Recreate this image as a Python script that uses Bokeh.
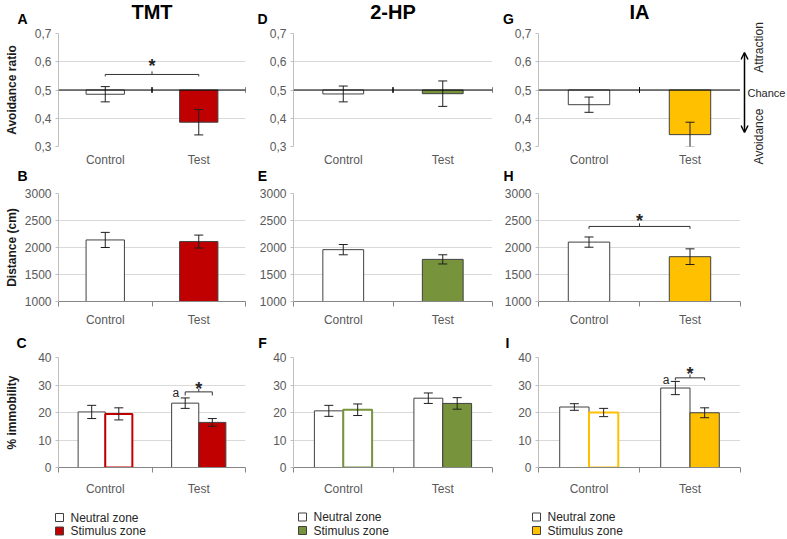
import math
from bokeh.plotting import figure
from bokeh.layouts import column, row
from bokeh.models import (FactorRange, Range1d, LinearAxis, FixedTicker,
                          CustomJSTickFormatter, ColumnDataSource, Whisker, TeeHead,
                          Arrow, OpenHead, Span)
from bokeh.transform import dodge
from bokeh.core.properties import value
from bokeh.embed import file_html
from bokeh.resources import INLINE

# ---------------- data ----------------
groups = ["Control", "Test"]
odor_names = ["TMT", "2-HP", "IA"]
odor_colors = ["#C00000", "#77933C", "#FFC000"]
panel_letters = [["A", "B", "C"], ["D", "E", "F"], ["G", "H", "I"]]
row_labels = ["Avoidance ratio", "Distance (cm)", "% immobility"]
legend_labels = ["Neutral zone", "Stimulus zone"]
side_labels = ["Attraction", "Chance", "Avoidance"]

ratio_ticks = [0.3, 0.4, 0.5, 0.6, 0.7]
dist_ticks = [1000, 1500, 2000, 2500, 3000]
imm_ticks = [0, 10, 20, 30, 40]

# avoidance ratio (bars drawn from chance level 0.5)
chance_level = 0.5
tmt_ratio = [0.485, 0.386]
tmt_ratio_err = [0.027, 0.045]
hp_ratio = [0.486, 0.487]
hp_ratio_err = [0.028, 0.045]
ia_ratio = [0.448, 0.342]
ia_ratio_err = [0.027, 0.044]

# distance (cm)
tmt_dist = [2140, 2110]
tmt_dist_err = [140, 120]
hp_dist = [1960, 1780]
hp_dist_err = [95, 85]
ia_dist = [2100, 1830]
ia_dist_err = [95, 145]

# % immobility: neutral zone / stimulus zone
tmt_imm_neutral = [20.2, 23.4]
tmt_imm_neutral_err = [2.4, 1.9]
tmt_imm_stim = [19.5, 16.4]
tmt_imm_stim_err = [2.2, 1.4]
hp_imm_neutral = [20.6, 25.2]
hp_imm_neutral_err = [2.0, 1.9]
hp_imm_stim = [21.0, 23.3]
hp_imm_stim_err = [2.1, 2.1]
ia_imm_neutral = [22.0, 28.9]
ia_imm_neutral_err = [1.2, 2.4]
ia_imm_stim = [20.0, 19.9]
ia_imm_stim_err = [1.5, 1.8]

# significance brackets: [line, end drop, mid tick, star baseline]
sig_ratio_tmt = [0.555, 0.548, 0.566, 0.586]
sig_dist_ia = [2390, 2345, 2448, 2491]
sig_imm_tmt = [27.5, 26.2, 28.6, 28.6]
sig_imm_ia = [32.6, 31.7, 33.8, 34.1]
a_imm_tmt = 27.1
a_imm_ia = 31.9

ratio_data = [(tmt_ratio, tmt_ratio_err), (hp_ratio, hp_ratio_err), (ia_ratio, ia_ratio_err)]
dist_data = [(tmt_dist, tmt_dist_err), (hp_dist, hp_dist_err), (ia_dist, ia_dist_err)]
imm_data = [(tmt_imm_neutral, tmt_imm_neutral_err, tmt_imm_stim, tmt_imm_stim_err),
            (hp_imm_neutral, hp_imm_neutral_err, hp_imm_stim, hp_imm_stim_err),
            (ia_imm_neutral, ia_imm_neutral_err, ia_imm_stim, ia_imm_stim_err)]

# ---------------- style / layout ----------------
FONT = "Liberation Sans"
TXT = "#262626"
TICK = "#595959"
GRID = "#D9D9D9"
EDGE = "#404040"
ERR = "#1F1F1F"
W = 786
H = 538

col_left = [0, 250, 497]
col_right = [250, 497, W]
frame_l = [58, 293, 538]
frame_r = [245, 492, 740]
row_top = [26, 186, 350]
row_bot = [169, 329, 498]
frame_t = [33, 193, 357]
frame_b = [149, 309, 473]

y_setup = [(ratio_ticks, "return tick.toFixed(1).replace('.', ',')", 13),
           (dist_ticks, "return tick.toFixed(0)", 3),
           (imm_ticks, "return tick.toFixed(0)", 16)]
xlab_standoff = [6, 6, 9]

BAR_W = 0.41
GBAR_W = 0.29
OFF = GBAR_W / 2


def make_fig(c, r, right_edge=None):
    ticks, fmt, ystand = y_setup[r]
    right = col_right[c] if right_edge is None else right_edge
    p = figure(width=right - col_left[c], height=row_bot[r] - row_top[r],
               x_range=FactorRange(factors=groups), y_range=Range1d(ticks[0], ticks[-1]),
               x_axis_type=None, output_backend="svg", toolbar_location=None,
               min_border_left=frame_l[c] - col_left[c], min_border_right=right - frame_r[c],
               min_border_top=frame_t[r] - row_top[r], min_border_bottom=row_bot[r] - frame_b[r])
    p.outline_line_color = None
    p.background_fill_color = "white"
    p.border_fill_color = "white"
    ya = p.yaxis[0]
    ya.ticker = FixedTicker(ticks=ticks, minor_ticks=[])
    ya.formatter = CustomJSTickFormatter(code=fmt)
    ya.axis_line_color = "#BFBFBF"
    ya.major_tick_out = 3
    ya.major_tick_in = 0
    ya.minor_tick_out = 0
    ya.minor_tick_in = 0
    ya.major_tick_line_color = "#BFBFBF"
    ya.major_label_text_font = FONT
    ya.major_label_text_font_size = "12px"
    ya.major_label_text_color = TICK
    ya.major_label_standoff = 4
    if c == 0:
        ya.axis_label = row_labels[r]
        ya.axis_label_text_font = FONT
        ya.axis_label_text_font_size = "12px"
        ya.axis_label_text_font_style = "bold"
        ya.axis_label_text_color = "#1A1A1A"
        ya.axis_label_standoff = ystand
    p.ygrid.grid_line_color = GRID

    xa = LinearAxis(ticker=FixedTicker(ticks=[0.5, 1.5], minor_ticks=[0, 1, 2]),
                    formatter=CustomJSTickFormatter(args=dict(names=groups),
                                                    code="return names[Math.floor(tick)]"))
    xa.major_tick_out = 0
    xa.major_tick_in = 0
    xa.major_label_text_font = FONT
    xa.major_label_text_font_size = "12px"
    xa.major_label_text_color = TICK
    xa.major_label_standoff = xlab_standoff[r]
    if r == 0:
        xa.axis_line_color = None
        xa.minor_tick_out = 0
        xa.minor_tick_in = 0
    else:
        xa.axis_line_color = "#868686"
        xa.minor_tick_line_color = "#868686"
        xa.minor_tick_out = 5
        xa.minor_tick_in = 0
    p.add_layout(xa, "below")
    return p


def strip(x0, x1, y0, y1):
    p = figure(width=x1 - x0, height=y1 - y0, x_range=Range1d(x0, x1), y_range=Range1d(y1, y0),
               x_axis_type=None, y_axis_type=None, output_backend="svg", toolbar_location=None,
               min_border=0, min_border_left=0, min_border_right=0, min_border_top=0,
               min_border_bottom=0)
    p.outline_line_color = None
    p.background_fill_color = "white"
    p.border_fill_color = "white"
    return p


def whisk(p, src, base, lo, hi):
    w = Whisker(source=src, base=base, lower=lo, upper=hi, line_color=ERR, line_width=1,
                lower_head=TeeHead(size=9, line_color=ERR, line_width=1),
                upper_head=TeeHead(size=9, line_color=ERR, line_width=1),
                level="annotation")
    p.add_layout(w)


def bracket(p, src, L, R, M):
    kw = dict(source=src, line_color="#333333", line_width=1)
    p.segment(x0=L, y0="y", x1=R, y1="y", **kw)
    p.segment(x0=L, y0="y", x1=L, y1="ye", **kw)
    p.segment(x0=R, y0="y", x1=R, y1="ye", **kw)
    p.segment(x0=M, y0="y", x1=M, y1="ym", **kw)
    p.text(x=M, y="ys", text=value("*"), source=src, text_align="center",
           text_baseline="alphabetic", text_font=value(FONT), text_font_size="18px",
           text_font_style="bold", text_color=TXT)


figs = [[None] * 3 for _ in range(3)]
for c in range(3):
    color = odor_colors[c]
    # ---- row 1: avoidance ratio
    p = make_fig(c, 0, right_edge=frame_r[2] if c == 2 else None)
    v, e = ratio_data[c]
    src = ColumnDataSource(dict(g=groups, v=v, lo=[a - b for a, b in zip(v, e)],
                                hi=[a + b for a, b in zip(v, e)], fill=["white", color]))
    p.vbar(x="g", top="v", bottom=chance_level, width=BAR_W, source=src,
           fill_color="fill", line_color=EDGE, line_width=1)
    whisk(p, src, "g", "lo", "hi")
    p.add_layout(Span(location=chance_level, dimension="width", line_color="black",
                      line_width=1, level="overlay"))
    tick_src = ColumnDataSource(dict(g=groups))
    for sd in (-0.5, 0.5):
        xt = dodge("g", sd, range=p.x_range)
        p.segment(x0=xt, y0=chance_level - 0.01, x1=xt, y1=chance_level + 0.01,
                  source=tick_src, line_color="black", line_width=1)
    if c == 0:
        bs = ColumnDataSource(dict(l=["Control"], r=["Test"], y=[sig_ratio_tmt[0]],
                                   ye=[sig_ratio_tmt[1]], ym=[sig_ratio_tmt[2]], ys=[sig_ratio_tmt[3]]))
        bracket(p, bs, "l", "r", dodge("l", 0.5, range=p.x_range))
    figs[0][c] = p

    # ---- row 2: distance
    p = make_fig(c, 1)
    v, e = dist_data[c]
    src = ColumnDataSource(dict(g=groups, v=v, lo=[a - b for a, b in zip(v, e)],
                                hi=[a + b for a, b in zip(v, e)], fill=["white", color]))
    p.vbar(x="g", top="v", bottom=p.y_range.start, width=BAR_W, source=src,
           fill_color="fill", line_color=EDGE, line_width=1)
    whisk(p, src, "g", "lo", "hi")
    if c == 2:
        bs = ColumnDataSource(dict(l=["Control"], r=["Test"], y=[sig_dist_ia[0]],
                                   ye=[sig_dist_ia[1]], ym=[sig_dist_ia[2]], ys=[sig_dist_ia[3]]))
        bracket(p, bs, "l", "r", dodge("l", 0.5, range=p.x_range))
    figs[1][c] = p

    # ---- row 3: immobility
    p = make_fig(c, 2)
    nv, ne, sv, se = imm_data[c]
    ns = ColumnDataSource(dict(g=groups, v=nv, lo=[a - b for a, b in zip(nv, ne)],
                               hi=[a + b for a, b in zip(nv, ne)]))
    ss = ColumnDataSource(dict(g=groups, v=sv, lo=[a - b for a, b in zip(sv, se)],
                               hi=[a + b for a, b in zip(sv, se)],
                               fill=["white", color], line=[color, EDGE], lw=[2, 1]))
    p.vbar(x=dodge("g", -OFF, range=p.x_range), top="v", bottom=0, width=GBAR_W, source=ns,
           fill_color="white", line_color=EDGE, line_width=1)
    p.vbar(x=dodge("g", OFF, range=p.x_range), top="v", bottom=0, width=GBAR_W, source=ss,
           fill_color="fill", line_color="line", line_width="lw")
    whisk(p, ns, dodge("g", -OFF, range=p.x_range), "lo", "hi")
    whisk(p, ss, dodge("g", OFF, range=p.x_range), "lo", "hi")
    sig = [sig_imm_tmt, None, sig_imm_ia][c]
    a_y = [a_imm_tmt, None, a_imm_ia][c]
    if sig is not None:
        bs = ColumnDataSource(dict(g=["Test"], y=[sig[0]], ye=[sig[1]], ym=[sig[2]],
                                   ys=[sig[3]], ya=[a_y]))
        L = dodge("g", -OFF, range=p.x_range)
        R = dodge("g", OFF, range=p.x_range)
        bracket(p, bs, L, R, "g")
        p.text(x=dodge("g", -OFF, range=p.x_range), y="ya", text=value("a"), source=bs,
               x_offset=-6, text_align="right", text_baseline="alphabetic",
               text_font=value(FONT), text_font_size="12px", text_color=TXT)
    figs[2][c] = p

# ---------------- text strips ----------------
frame_mid = [(a + b) / 2 for a, b in zip(frame_l, frame_r)]
letter_x = [22, 262, 508]
letter_style = dict(text_align="center", text_baseline="middle", text_font=value(FONT),
                    text_font_size="14px", text_font_style="bold", text_color="black")

top = strip(0, frame_r[2], 0, row_top[0])
top.text(x=frame_mid, y=[11] * 3, text=odor_names, text_align="center",
         text_baseline="middle", text_font=value(FONT), text_font_size="20px",
         text_font_style="bold", text_color="black")
top.text(x=letter_x, y=[18] * 3, text=[panel_letters[c][0] for c in range(3)], **letter_style)

strip_b = strip(0, W, row_bot[0], row_top[1])
strip_b.text(x=letter_x, y=[175] * 3, text=[panel_letters[c][1] for c in range(3)],
             **letter_style)

strip_c = strip(0, W, row_bot[1], row_top[2])
strip_c.text(x=[21, 262, 507], y=[342] * 3, text=[panel_letters[c][2] for c in range(3)],
             **letter_style)

# right-hand scale annotation beside panel G
side = strip(frame_r[2], W, 0, row_bot[0])
side.add_layout(Arrow(x_start=744, y_start=132, x_end=744, y_end=52, line_color="black",
                      line_width=1.5,
                      start=OpenHead(size=7, line_width=1.5, line_color="black"),
                      end=OpenHead(size=7, line_width=1.5, line_color="black")))
side.text(x=[747], y=[92], text=[side_labels[1]], text_align="left", text_baseline="middle",
          text_font=value(FONT), text_font_size="11px", text_color=TXT)
side.text(x=[758, 758], y=[47, 136], text=[side_labels[0], side_labels[2]], angle=math.pi / 2,
          text_align="center", text_baseline="middle", text_font=value(FONT),
          text_font_size="12px", text_color=TXT)

# legends under the immobility panels
leg = strip(0, W, row_bot[2], H)
sq_x = [59, 302, 536]
leg_y = [[517, 530.5], [516.5, 530], [516.5, 530]]
for c in range(3):
    leg.scatter(x=[sq_x[c]] * 2, y=leg_y[c], marker="square", size=8,
                fill_color=["white", odor_colors[c]], line_color=EDGE, line_width=1)
    leg.text(x=[sq_x[c] + 11] * 2, y=leg_y[c], text=legend_labels, text_align="left",
             text_baseline="middle", text_font=value(FONT), text_font_size="12px",
             text_color=TXT)

layout = column(row(column(top, row(*figs[0])), side),
                strip_b,
                row(*figs[1]),
                strip_c,
                row(*figs[2]),
                leg)
open("out.html", "w").write(file_html(layout, INLINE))
